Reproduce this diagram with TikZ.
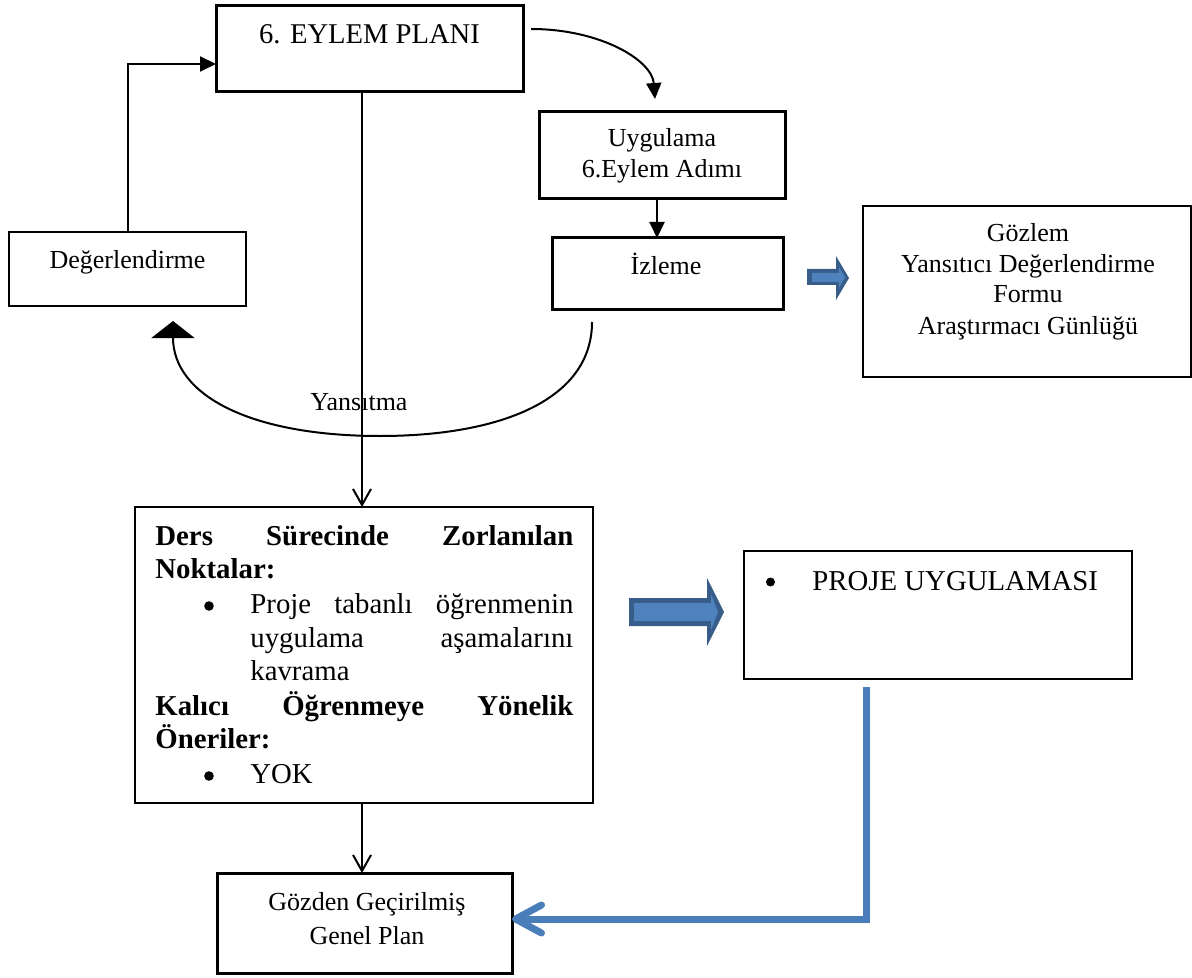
\documentclass[tikz,border=0pt]{standalone}
\usepackage{fontspec}
\setmainfont{Liberation Serif}
\usetikzlibrary{arrows.meta}
\definecolor{accent}{HTML}{4F81BD}
\definecolor{accentdark}{HTML}{385D8A}
\definecolor{accentline}{HTML}{4A7EBB}

\begin{document}
\begin{tikzpicture}[x=0.5pt,y=-0.5pt,
  thickbox/.style={draw,line width=1.5pt,inner sep=0pt,outer sep=0pt},
  thinbox/.style={draw,line width=0.6pt,inner sep=0pt,outer sep=0pt},
  txt/.style={inner sep=0pt,anchor=base,font=\fontsize{13pt}{15pt}\selectfont},
  bigtxt/.style={inner sep=0pt,anchor=base west,font=\fontsize{14.4pt}{17pt}\selectfont},
  bulletdot/.style={circle,fill,inner sep=0pt,minimum size=4.8pt},
  conn/.style={line width=1pt},
  solidhead/.style={-{Triangle[length=8pt,width=7.5pt]}},
  openhead/.style={-{Straight Barb[length=8pt,width=9pt]}},
]
\useasboundingbox (0,0) rectangle (1192,978);

% ---- boxes of the action cycle ----
\node[thickbox,minimum width=153.5pt,minimum height=43pt] (eylem) at (369.5,49) {};
\node[txt,font=\fontsize{14.3pt}{17pt}\selectfont] (eylemT) at (369.5,44) {6. EYLEM PLANI};

\node[thickbox,line width=1.4pt,minimum width=118.5pt,minimum height=37pt] (deger) at (127.5,269) {};
\node[txt] (degerT) at (127.5,269) {Değerlendirme};

\node[thickbox,minimum width=123pt,minimum height=43.5pt] (uyg) at (662,155.5) {};
\node[txt] (uygT1) at (662,147) {Uygulama};
\node[txt] (uygT2) at (662,178) {6.Eylem Adımı};

\node[thickbox,minimum width=115.5pt,minimum height=36pt] (izl) at (667.5,274) {};
\node[txt] (izlT) at (666,275) {İzleme};

\node[draw,line width=0.9pt,inner sep=0pt,outer sep=0pt,minimum width=164pt,minimum height=85.5pt] (gozlem) at (1027,291.5) {};
\node[txt] (gozT1) at (1028,242) {Gözlem};
\node[txt] (gozT2) at (1028,273) {Yansıtıcı Değerlendirme};
\node[txt] (gozT3) at (1028,303) {Formu};
\node[txt] (gozT4) at (1028,335) {Araştırmacı Günlüğü};

% ---- findings box ----
\node[thinbox,minimum width=229pt,minimum height=148pt] (ders) at (364,655) {};
\node[bigtxt] (d1) at (155,545) {\hbox to 209pt{\bfseries Ders\hfill Sürecinde\hfill Zorlanılan}};
\node[bigtxt] (d2) at (155,578) {\bfseries Noktalar:};
\node[bulletdot] (b1) at (209,606) {};
\node[bigtxt] (d3) at (250,613) {\hbox to 161.5pt{Proje\hfill tabanlı\hfill öğrenmenin}};
\node[bigtxt] (d4) at (250,647) {\hbox to 161.5pt{uygulama\hfill aşamalarını}};
\node[bigtxt] (d5) at (250,680) {kavrama};
\node[bigtxt] (d6) at (155,715) {\hbox to 209pt{\bfseries Kalıcı\hfill Öğrenmeye\hfill Yönelik}};
\node[bigtxt] (d7) at (155,748) {\bfseries Öneriler:};
\node[bulletdot] (b2) at (209,776) {};
\node[bigtxt] (d8) at (250,783) {YOK};

% ---- project box ----
\node[draw,line width=0.7pt,inner sep=0pt,outer sep=0pt,minimum width=194pt,minimum height=64pt] (proje) at (938,615) {};
\node[bulletdot,minimum size=4.5pt] (pb) at (770.5,582) {};
\node[bigtxt] (pT) at (812,590) {PROJE UYGULAMASI};

% ---- revised plan ----
\node[thickbox,minimum width=147.5pt,minimum height=50pt] (gozden) at (364.5,923) {};
\node[txt] (gozdenT1) at (367,910) {Gözden Geçirilmiş};
\node[txt] (gozdenT2) at (367,944) {Genel Plan};

\node[txt] (yans) at (359,410) {Yansıtma};

% ---- connectors ----
\draw[conn,solidhead] (deger.north) |- ([yshift=-7.5pt]eylem.west);
\draw[conn,openhead] ([xshift=-3.75pt]eylem.south) -- ([xshift=-1pt]ders.north);
\draw[conn,openhead] ([xshift=-1pt]ders.south) -- ([xshift=-1.25pt]gozden.north);
\draw[conn,solidhead] ([xshift=4pt,yshift=-11.5pt]eylem.north east)
  .. controls +(69,0) and +(-3,-39) .. ([xshift=-3.5pt,yshift=6.5pt]uyg.north);
\draw[conn,solidhead] ([xshift=-2.5pt]uyg.south) -- ([xshift=-2.5pt]uyg.south |- izl.north);

\coordinate (ybottom) at (380,436);
\draw[conn,-{Triangle[length=8.5pt,width=21.5pt]}] ([xshift=20pt,yshift=-6pt]izl.south west)
  .. controls +(0,78) and +(120,0) .. (ybottom)
  .. controls +(-130,0) and +(0,74) .. ([xshift=22.75pt,yshift=-7.5pt]deger.south);

\draw[accentline,line width=3.5pt,-{Straight Barb[length=13pt,width=14pt,round]}]
  ([xshift=-36pt,yshift=-4pt]proje.south) |- ([yshift=2pt]gozden.east);

% ---- block arrows ----
\fill[accentdark] (629,598) -- (707,598) -- (707,578) -- (724,612) -- (707,646) -- (707,626) -- (629,626) -- cycle;
\fill[accent] (634,603) -- (711,603) -- (711,594) -- (718,612) -- (711,630) -- (711,621) -- (634,621) -- cycle;

\fill[accentdark] (807,269) -- (836,269) -- (836,256) -- (849,278) -- (836,300) -- (836,285) -- (807,285) -- cycle;
\fill[accent] (812,273) -- (839,273) -- (839,267) -- (845,277.5) -- (839,288) -- (839,282) -- (812,282) -- cycle;
\end{tikzpicture}
\end{document}
